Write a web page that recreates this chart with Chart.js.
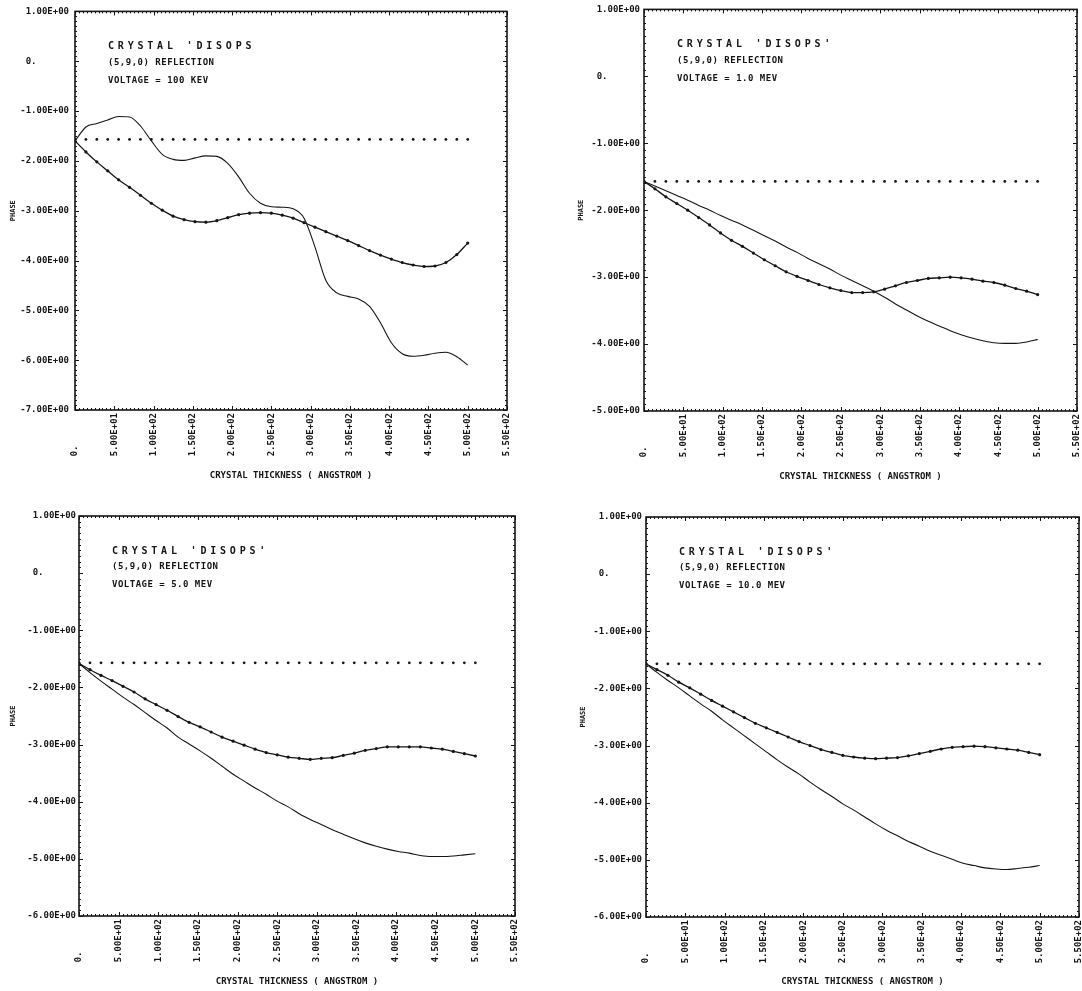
<!DOCTYPE html>
<html>
<head>
<meta charset="utf-8">
<script src="https://cdn.jsdelivr.net/npm/chart.js@4.4.1/dist/chart.umd.min.js"></script>
<style>
  body { margin: 0; background: #fff; width: 1082px; height: 991px; position: relative; overflow: hidden; }
  canvas { position: absolute; }
</style>
</head>
<body>
<canvas id="p1" width="541" height="495" style="left:0;top:0"></canvas>
<canvas id="p2" width="580" height="495" style="left:541px;top:0"></canvas>
<canvas id="p3" width="541" height="495" style="left:0;top:495px"></canvas>
<canvas id="p4" width="580" height="495" style="left:541px;top:495px"></canvas>
<script>
// crystal thickness (angstrom) at each plotted point
const xGrid = [0, 13.89, 27.78, 41.67, 55.56, 69.44, 83.33, 97.22, 111.11, 125, 138.89, 152.78, 166.67,
  180.56, 194.44, 208.33, 222.22, 236.11, 250, 263.89, 277.78, 291.67, 305.56, 319.44, 333.33, 347.22,
  361.11, 375, 388.89, 402.78, 416.67, 430.56, 444.44, 458.33, 472.22, 486.11, 500];

// the dotted horizontal reference (same in every panel)
const refPhase = [-1.57, -1.57, -1.57, -1.57, -1.57, -1.57, -1.57, -1.57, -1.57, -1.57, -1.57, -1.57, -1.57,
  -1.57, -1.57, -1.57, -1.57, -1.57, -1.57, -1.57, -1.57, -1.57, -1.57, -1.57, -1.57, -1.57,
  -1.57, -1.57, -1.57, -1.57, -1.57, -1.57, -1.57, -1.57, -1.57, -1.57, -1.57];

// 100 KEV
const p1Dotted = [-1.60, -1.82, -2.02, -2.20, -2.38, -2.53, -2.69, -2.85, -2.99, -3.11, -3.18, -3.22, -3.23,
  -3.20, -3.14, -3.08, -3.05, -3.04, -3.05, -3.09, -3.15, -3.24, -3.33, -3.42, -3.51, -3.60,
  -3.70, -3.80, -3.89, -3.97, -4.04, -4.09, -4.12, -4.11, -4.04, -3.88, -3.65];
const p1Solid = [-1.60, -1.32, -1.25, -1.18, -1.11, -1.12, -1.30, -1.60, -1.87, -1.97, -1.99, -1.94, -1.90,
  -1.91, -2.05, -2.32, -2.65, -2.85, -2.92, -2.93, -2.96, -3.15, -3.73, -4.40, -4.65, -4.72,
  -4.77, -4.92, -5.25, -5.65, -5.87, -5.92, -5.90, -5.86, -5.84, -5.93, -6.10];

// 1.0 MEV
const p2Dotted = [-1.57, -1.68, -1.80, -1.90, -2.00, -2.11, -2.22, -2.34, -2.45, -2.54, -2.64, -2.74, -2.83,
  -2.92, -2.99, -3.05, -3.11, -3.16, -3.20, -3.23, -3.23, -3.22, -3.18, -3.13, -3.08, -3.05,
  -3.02, -3.01, -3.00, -3.01, -3.03, -3.06, -3.08, -3.12, -3.17, -3.21, -3.26];
const p2Solid = [-1.57, -1.64, -1.71, -1.78, -1.85, -1.93, -2.00, -2.08, -2.15, -2.22, -2.30, -2.38, -2.46,
  -2.55, -2.63, -2.72, -2.80, -2.88, -2.97, -3.05, -3.13, -3.21, -3.30, -3.40, -3.49, -3.58,
  -3.66, -3.73, -3.80, -3.86, -3.91, -3.95, -3.98, -3.99, -3.99, -3.97, -3.93];

// 5.0 MEV
const p3Dotted = [-1.58, -1.69, -1.79, -1.88, -1.98, -2.08, -2.20, -2.30, -2.40, -2.51, -2.61, -2.69, -2.78,
  -2.87, -2.94, -3.01, -3.08, -3.14, -3.18, -3.22, -3.24, -3.26, -3.24, -3.23, -3.19, -3.15,
  -3.10, -3.07, -3.04, -3.04, -3.04, -3.04, -3.06, -3.08, -3.12, -3.16, -3.20];
const p3Solid = [-1.58, -1.74, -1.89, -2.03, -2.17, -2.30, -2.44, -2.58, -2.71, -2.87, -2.99, -3.11, -3.24,
  -3.38, -3.52, -3.64, -3.76, -3.87, -3.99, -4.09, -4.21, -4.31, -4.40, -4.49, -4.57, -4.65,
  -4.72, -4.78, -4.83, -4.87, -4.90, -4.94, -4.96, -4.96, -4.95, -4.93, -4.91];

// 10.0 MEV
const p4Dotted = [-1.57, -1.67, -1.77, -1.89, -1.99, -2.10, -2.21, -2.31, -2.41, -2.51, -2.61, -2.69, -2.77,
  -2.85, -2.93, -3.00, -3.07, -3.12, -3.17, -3.20, -3.22, -3.23, -3.22, -3.21, -3.18, -3.14,
  -3.10, -3.06, -3.03, -3.02, -3.01, -3.02, -3.04, -3.06, -3.08, -3.12, -3.16];
const p4Solid = [-1.57, -1.72, -1.86, -1.99, -2.13, -2.27, -2.40, -2.55, -2.69, -2.83, -2.97, -3.11, -3.25,
  -3.38, -3.50, -3.64, -3.77, -3.89, -4.02, -4.13, -4.25, -4.37, -4.48, -4.58, -4.68, -4.76,
  -4.85, -4.92, -4.99, -5.06, -5.10, -5.14, -5.16, -5.17, -5.15, -5.13, -5.10];

// tick labels as printed by the plotter
const xTickLabels = ['0.', '5.00E+01', '1.00E+02', '1.50E+02', '2.00E+02', '2.50E+02', '3.00E+02',
  '3.50E+02', '4.00E+02', '4.50E+02', '5.00E+02', '5.50E+02'];
const yTickLabels = ['1.00E+00', '0.', '-1.00E+00', '-2.00E+00', '-3.00E+00', '-4.00E+00',
  '-5.00E+00', '-6.00E+00', '-7.00E+00'];

const crystalLabels = ["CRYSTAL 'DISOPS", "CRYSTAL 'DISOPS'", "CRYSTAL 'DISOPS'", "CRYSTAL 'DISOPS'"];
const reflectionLabel = '(5,9,0) REFLECTION';
const voltageLabels = ['VOLTAGE = 100 KEV', 'VOLTAGE = 1.0 MEV', 'VOLTAGE = 5.0 MEV', 'VOLTAGE = 10.0 MEV'];
const yMins = [-7, -5, -6, -6];

const INK = '#151515';
const MONO = '"DejaVu Sans Mono", "Liberation Mono", monospace';

// plot frames inside each canvas (cw = canvas width, all canvases 495 high)
const frames = [
  { cw: 541, left: 75, right: 507, top: 10, bottom: 410, xAxisH: 74, titlePadB: 2.6, yTitlePad: 9, yTickPad: 6 },
  { cw: 580, left: 103, right: 536, top: 9, bottom: 411, xAxisH: 74, titlePadB: 2.6, yTitlePad: 36, yTickPad: 4 },
  { cw: 541, left: 79, right: 515, top: 21, bottom: 421, xAxisH: 72, titlePadB: 0.6, yTitlePad: 9, yTickPad: 3 },
  { cw: 580, left: 105, right: 538, top: 22, bottom: 422, xAxisH: 72, titlePadB: 1.6, yTitlePad: 38, yTickPad: 4 }
];

// monospace labels are padded so that "0." lines up with the long labels
function pad8(s) {
  return (s || '').padEnd(8, ' ');
}

function points(ys) {
  return xGrid.map((x, i) => ({ x: x, y: ys[i] }));
}

// frame, small ticks on all four sides and the text block
const overlay = {
  id: 'overlay',
  afterDraw(chart, args, opts) {
    const { ctx, chartArea: a, scales } = chart;
    ctx.save();
    ctx.strokeStyle = INK;
    ctx.lineWidth = 1.6;
    ctx.strokeRect(a.left, a.top, a.right - a.left, a.bottom - a.top);

    ctx.lineWidth = 1;
    ctx.beginPath();
    for (let v = 0; v <= 550; v += 5) {
      const px = Math.round(scales.x.getPixelForValue(v)) + 0.5;
      const len = v % 50 === 0 ? 4 : 2;
      ctx.moveTo(px, a.bottom); ctx.lineTo(px, a.bottom - len);
      ctx.moveTo(px, a.top); ctx.lineTo(px, a.top + len);
    }
    for (let k = opts.yMin * 10; k <= 10; k++) {
      const py = Math.round(scales.y.getPixelForValue(k / 10)) + 0.5;
      const len = k % 10 === 0 ? 4 : 2;
      ctx.moveTo(a.left, py); ctx.lineTo(a.left + len, py);
      ctx.moveTo(a.right, py); ctx.lineTo(a.right - len, py);
    }
    ctx.stroke();

    ctx.fillStyle = INK;
    ctx.textBaseline = 'middle';
    ctx.textAlign = 'left';
    ctx.font = 'bold 10px ' + MONO;
    ctx.letterSpacing = '3.8px';
    ctx.fillText(opts.lines[0], a.left + 33, a.top + 35);
    ctx.font = 'bold 9px ' + MONO;
    ctx.letterSpacing = '0.5px';
    ctx.fillText(opts.lines[1], a.left + 33, a.top + 51);
    ctx.fillText(opts.lines[2], a.left + 33, a.top + 69);
    ctx.restore();
  }
};

function makePanel(id, idx, dotted, solid) {
  const g = frames[idx];
  const yMin = yMins[idx];
  new Chart(document.getElementById(id), {
    type: 'line',
    data: {
      datasets: [
        {
          data: points(refPhase),
          showLine: false,
          pointRadius: 1.4,
          pointBorderWidth: 0,
          pointBackgroundColor: INK
        },
        {
          data: points(dotted),
          borderColor: INK,
          borderWidth: 1.3,
          pointRadius: 1.6,
          pointBorderWidth: 0,
          pointBackgroundColor: INK,
          cubicInterpolationMode: 'monotone'
        },
        {
          data: points(solid),
          borderColor: INK,
          borderWidth: 1.1,
          pointRadius: 0,
          cubicInterpolationMode: 'monotone'
        }
      ]
    },
    options: {
      responsive: false,
      animation: false,
      devicePixelRatio: 1,
      layout: {
        padding: { left: 0, right: g.cw - g.right, top: g.top, bottom: 495 - g.bottom - g.xAxisH }
      },
      plugins: {
        legend: { display: false },
        tooltip: { enabled: false },
        overlay: { yMin: yMin, lines: [crystalLabels[idx], reflectionLabel, voltageLabels[idx]] }
      },
      scales: {
        x: {
          type: 'linear',
          min: 0,
          max: 550,
          afterFit: s => { s.height = g.xAxisH; },
          grid: { display: false, drawTicks: false },
          border: { display: false },
          ticks: {
            stepSize: 50,
            autoSkip: false,
            minRotation: 90,
            maxRotation: 90,
            padding: 3,
            color: INK,
            font: { family: MONO, size: 9, weight: 'bold' },
            callback: v => pad8(xTickLabels[Math.round(v / 50)])
          },
          title: {
            display: true,
            text: 'CRYSTAL THICKNESS ( ANGSTROM )',
            color: INK,
            font: { family: MONO, size: 9, weight: 'bold' },
            padding: { top: 0, bottom: g.titlePadB }
          }
        },
        y: {
          min: yMin,
          max: 1,
          afterFit: s => { s.width = g.left; },
          grid: { display: false, drawTicks: false },
          border: { display: false },
          ticks: {
            stepSize: 1,
            autoSkip: false,
            padding: g.yTickPad,
            color: INK,
            font: { family: MONO, size: 9, weight: 'bold' },
            callback: v => pad8(yTickLabels[Math.round(1 - v)])
          },
          title: {
            display: true,
            text: 'PHASE',
            color: INK,
            font: { family: MONO, size: 7, weight: 'bold' },
            padding: { top: g.yTitlePad, bottom: 0 }
          }
        }
      }
    },
    plugins: [overlay]
  });
}

makePanel('p1', 0, p1Dotted, p1Solid);
makePanel('p2', 1, p2Dotted, p2Solid);
makePanel('p3', 2, p3Dotted, p3Solid);
makePanel('p4', 3, p4Dotted, p4Solid);
</script>
</body>
</html>
